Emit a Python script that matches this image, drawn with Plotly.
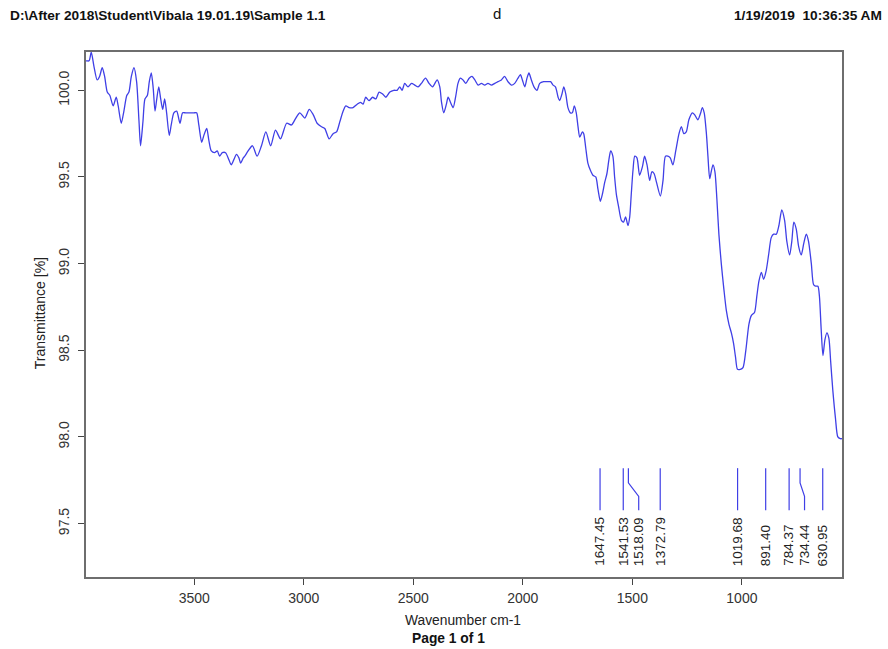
import plotly.graph_objects as go

# FTIR spectrum, sample 1.1 (wavenumber in cm-1, transmittance in %)
wavenumber = [
    3994, 3991, 3980, 3970, 3958, 3943, 3932, 3920, 3909, 3897, 3885, 3870, 3856, 3847,
    3833, 3821, 3808, 3798, 3787, 3775, 3763, 3752, 3745, 3734, 3725, 3714, 3705, 3696,
    3687, 3679, 3672, 3662, 3653, 3644, 3635, 3626, 3614, 3605, 3593, 3580, 3565, 3553,
    3539, 3529, 3516, 3501, 3489, 3479, 3466, 3456, 3443, 3433, 3422, 3407, 3395, 3384,
    3372, 3357, 3342, 3331, 3319, 3307, 3296, 3288, 3276, 3269, 3254, 3234, 3213, 3193,
    3173, 3151, 3129, 3106, 3078, 3056, 3036, 3018, 2995, 2975, 2957, 2939, 2919, 2904,
    2884, 2866, 2850, 2835, 2820, 2808, 2793, 2775, 2756, 2741, 2729, 2717, 2702, 2686,
    2671, 2656, 2641, 2625, 2607, 2589, 2574, 2562, 2551, 2539, 2524, 2508, 2493, 2478,
    2463, 2444, 2428, 2412, 2391, 2379, 2371, 2361, 2349, 2341, 2330, 2318, 2307, 2296,
    2285, 2273, 2260, 2245, 2232, 2219, 2204, 2189, 2174, 2159, 2143, 2128, 2113, 2098,
    2083, 2068, 2052, 2037, 2022, 2011, 2002, 1991, 1981, 1972, 1961, 1949, 1935, 1923,
    1905, 1885, 1873, 1862, 1851, 1839, 1832, 1821, 1813, 1804, 1794, 1783, 1774, 1765,
    1756, 1748, 1740, 1728, 1722, 1713, 1703, 1692, 1680, 1667, 1657, 1646, 1637, 1626,
    1616, 1607, 1599, 1589, 1581, 1573, 1563, 1550, 1540, 1531, 1520, 1512, 1505, 1497,
    1489, 1479, 1467, 1454, 1444, 1433, 1421, 1411, 1401, 1390, 1372, 1360, 1349, 1338,
    1327, 1315, 1302, 1287, 1276, 1265, 1254, 1242, 1226, 1216, 1201, 1188, 1181, 1172,
    1162, 1155, 1147, 1140, 1132, 1123, 1114, 1105, 1094, 1082, 1071, 1059, 1048, 1038,
    1029, 1020, 1007, 995, 982, 968, 957, 942, 932, 922, 911, 901, 889, 877,
    866, 855, 843, 831, 818, 805, 795, 782, 772, 763, 752, 741, 729, 717,
    706, 696, 683, 673, 664, 653, 646, 638, 630, 621, 612, 603, 595, 585,
    573, 562, 551, 543,
]
transmittance = [
    100.17, 100.17, 100.17, 100.22, 100.14, 100.06, 100.08, 100.13, 100.08, 99.99, 99.97, 99.91, 99.96, 99.91,
    99.81, 99.88, 99.97, 99.99, 100.08, 100.13, 100.05, 99.82, 99.68, 99.82, 99.95, 99.97, 100.05, 100.10,
    100.01, 99.88, 99.94, 100.02, 99.95, 99.89, 99.95, 99.87, 99.74, 99.80, 99.87, 99.88, 99.81, 99.87,
    99.87, 99.87, 99.87, 99.87, 99.87, 99.80, 99.70, 99.74, 99.78, 99.71, 99.65, 99.64, 99.65, 99.62,
    99.64, 99.64, 99.60, 99.57, 99.60, 99.63, 99.61, 99.58, 99.61, 99.62, 99.65, 99.68, 99.62, 99.68,
    99.76, 99.68, 99.77, 99.72, 99.81, 99.80, 99.84, 99.87, 99.84, 99.89, 99.86, 99.81, 99.79, 99.78,
    99.72, 99.75, 99.76, 99.82, 99.88, 99.91, 99.90, 99.90, 99.92, 99.93, 99.92, 99.96, 99.94, 99.96,
    99.95, 99.99, 99.98, 99.96, 99.99, 100.00, 100.00, 100.02, 100.00, 100.04, 100.02, 100.04, 100.03, 100.02,
    100.04, 100.07, 100.04, 100.02, 100.06, 100.02, 99.93, 99.87, 99.92, 99.96, 99.93, 99.90, 99.96, 100.04,
    100.07, 100.06, 100.04, 100.07, 100.08, 100.06, 100.03, 100.04, 100.03, 100.04, 100.03, 100.04, 100.05, 100.06,
    100.08, 100.05, 100.03, 100.04, 100.07, 100.09, 100.06, 100.02, 100.07, 100.10, 100.06, 100.02, 100.00, 100.04,
    100.05, 100.05, 100.05, 100.03, 100.02, 99.96, 99.94, 99.98, 100.02, 99.98, 99.90, 99.87, 99.87, 99.91,
    99.87, 99.79, 99.73, 99.76, 99.75, 99.67, 99.58, 99.54, 99.51, 99.50, 99.43, 99.36, 99.40, 99.47,
    99.52, 99.60, 99.65, 99.62, 99.50, 99.40, 99.33, 99.25, 99.24, 99.27, 99.22, 99.27, 99.40, 99.54,
    99.62, 99.61, 99.51, 99.56, 99.62, 99.57, 99.48, 99.53, 99.52, 99.47, 99.39, 99.48, 99.62, 99.62,
    99.61, 99.57, 99.65, 99.75, 99.79, 99.75, 99.76, 99.83, 99.87, 99.86, 99.83, 99.87, 99.90, 99.87,
    99.75, 99.62, 99.49, 99.53, 99.57, 99.53, 99.37, 99.17, 99.00, 98.85, 98.73, 98.65, 98.60, 98.54,
    98.46, 98.39, 98.39, 98.40, 98.50, 98.65, 98.70, 98.72, 98.81, 98.90, 98.95, 98.91, 98.96, 99.06,
    99.15, 99.17, 99.17, 99.22, 99.31, 99.25, 99.13, 99.05, 99.13, 99.24, 99.20, 99.10, 99.05, 99.12,
    99.17, 99.13, 99.00, 98.88, 98.87, 98.87, 98.81, 98.62, 98.47, 98.56, 98.60, 98.57, 98.44, 98.27,
    98.11, 98.00, 97.99, 97.99,
]

# Picked peaks and where their labels sit (shifted where labels would collide)
peak_labels = ["1647.45", "1541.53", "1518.09", "1372.79", "1019.68", "891.40", "784.37", "734.44", "630.95"]
peak_positions = [1647.45, 1541.53, 1518.09, 1372.79, 1019.68, 891.40, 784.37, 734.44, 630.95]
label_positions = [1647.45, 1541.53, 1471.0, 1372.79, 1019.68, 891.40, 784.37, 714.0, 630.95]

LINE_BLUE = "#3f3fe6"
TEXT = "#222222"
FONT = "Liberation Sans, Arial, sans-serif"

fig = go.Figure()

fig.add_trace(go.Scatter(
    x=wavenumber, y=transmittance, mode="lines",
    line=dict(color=LINE_BLUE, width=1.3, shape="spline", smoothing=0.7),
    hoverinfo="x+y", showlegend=False,
))

# Peak marker ticks: vertical stroke, with a kink where the label is offset
mark_top, mark_kink, mark_join, mark_bottom = 97.82, 97.735, 97.657, 97.577
for pk, lx in zip(peak_positions, label_positions):
    if abs(pk - lx) < 1e-6:
        xs, ys = [pk, pk], [mark_top, mark_bottom]
    else:
        xs, ys = [pk, pk, lx, lx], [mark_top, mark_kink, mark_join, mark_bottom]
    fig.add_trace(go.Scatter(
        x=xs, y=ys, mode="lines", line=dict(color=LINE_BLUE, width=1.2),
        hoverinfo="skip", showlegend=False,
    ))

annotations = []
for text, lx in zip(peak_labels, label_positions):
    annotations.append(dict(
        x=lx, y=97.243, xref="x", yref="y", text=text, showarrow=False,
        textangle=-90, xanchor="center", yanchor="bottom",
        font=dict(family=FONT, size=13.5, color=TEXT),
    ))

def paper_x(px):
    return (px - 86) / 756.0

def paper_y(py):
    return (576.7 - py) / 525.0

annotations += [
    dict(x=paper_x(8), y=paper_y(15), xref="paper", yref="paper", xanchor="left", yanchor="middle",
         text="<b>D:\\After 2018\\Student\\Vibala 19.01.19\\Sample 1.1</b>", showarrow=False,
         font=dict(family=FONT, size=13.7, color="#111111")),
    dict(x=paper_x(497), y=paper_y(13), xref="paper", yref="paper", xanchor="center", yanchor="middle",
         text="d", showarrow=False, font=dict(family=FONT, size=15, color="#111111")),
    dict(x=paper_x(884), y=paper_y(15), xref="paper", yref="paper", xanchor="right", yanchor="middle",
         text="<b>1/19/2019  10:36:35 AM</b>", showarrow=False,
         font=dict(family=FONT, size=13.7, color="#111111")),
    dict(x=paper_x(463), y=paper_y(620), xref="paper", yref="paper", xanchor="center", yanchor="middle",
         text="Wavenumber cm-1", showarrow=False, font=dict(family=FONT, size=13.8, color=TEXT)),
    dict(x=paper_x(448), y=paper_y(638), xref="paper", yref="paper", xanchor="center", yanchor="middle",
         text="<b>Page 1 of 1</b>", showarrow=False, font=dict(family=FONT, size=13.8, color="#111111")),
    dict(x=paper_x(40), y=paper_y(313), xref="paper", yref="paper", xanchor="center", yanchor="middle",
         text="Transmittance [%]", textangle=-90, showarrow=False,
         font=dict(family=FONT, size=14, color=TEXT)),
]

axis_common = dict(
    showgrid=False, zeroline=False, showline=True, mirror=True,
    linecolor="#6e6e6e", linewidth=1.5,
    ticks="outside", ticklen=6, tickcolor="#444444", tickwidth=1,
    tickfont=dict(family=FONT, size=14, color="#333333"),
)

fig.update_layout(
    width=888, height=649,
    margin=dict(l=86, r=46, t=52, b=72, pad=0),
    paper_bgcolor="white", plot_bgcolor="white",
    xaxis=dict(range=[3994, 543], tickvals=[3500, 3000, 2500, 2000, 1500, 1000],
               ticklabelstandoff=1, **axis_common),
    yaxis=dict(range=[97.192, 100.221], tickvals=[97.5, 98.0, 98.5, 99.0, 99.5, 100.0],
               ticktext=["97.5", "98.0", "98.5", "99.0", "99.5", "100.0"], tickangle=-90,
               ticklabelstandoff=4, **axis_common),
    annotations=annotations,
    showlegend=False,
)

fig.write_html("out.html")
